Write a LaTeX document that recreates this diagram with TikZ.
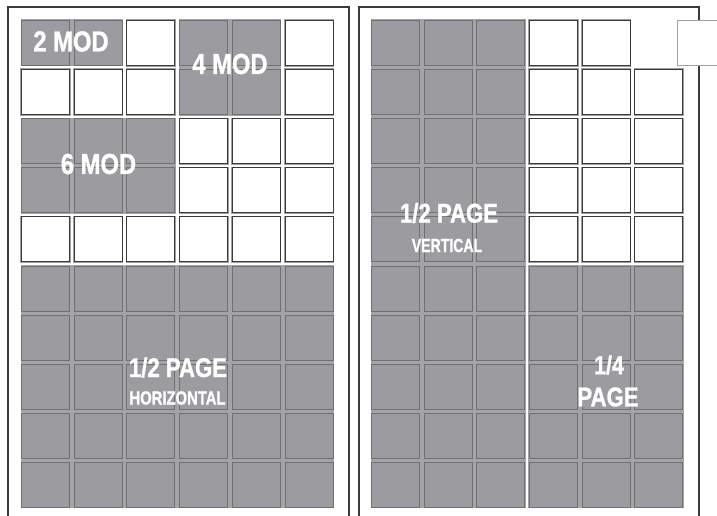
\documentclass[tikz,border=0pt]{standalone}
\usepackage{fontspec}
\setmainfont{Liberation Sans}
\newfontfamily\heavy[FakeBold=1.2]{Liberation Sans Bold}
\definecolor{cellgray}{HTML}{9C9CA0}
\definecolor{gapgray}{HTML}{A4A4A7}
\definecolor{cellline}{HTML}{707072}
\definecolor{pageline}{HTML}{3A3A3A}
\definecolor{shadow}{HTML}{A0A0A0}
\tikzset{
  cellbase/.style={minimum width=48pt,minimum height=45pt,inner sep=0pt,outer sep=0pt,line width=0.9pt},
  wcell/.style={cellbase,fill=white,draw=pageline,
     preaction={draw=shadow,line width=2.2pt}},
  gcell/.style={cellbase,fill=cellgray,draw=cellline},
  pageedge/.style={draw=pageline,line width=1.3pt,
     preaction={draw=shadow,line width=2.6pt}},
  bigtxt/.style={text=white,font=\heavy\fontsize{29}{29}\selectfont,inner sep=0pt},
  smalltxt/.style={text=white,font=\heavy\fontsize{19}{19}\selectfont,inner sep=0pt},
}
\newcommand\LX[1]{\fpeval{21+52.7*(#1-1)}}
\newcommand\RX[1]{\fpeval{371+52.65*(#1-1)}}
\newcommand\YY[1]{\fpeval{20+49.1*(#1-1)}}
\begin{document}
\begin{tikzpicture}[x=1pt,y=-1pt]
\useasboundingbox (0,0) rectangle (717,516);
% pages
\draw[pageedge] (8,530) -- (8,7) -- (349,7) -- (349,530);
\draw[pageedge] (359,530) -- (359,7) -- (699,7) -- (699,530);
\node[draw=shadow,fill=white,line width=1.4pt,minimum width=50pt,minimum height=45pt,inner sep=0pt,anchor=north west] (tab) at (677,20) {};
% gray block backgrounds (gaps)
\fill[gapgray] (\LX{1}-0.5,\YY{1}-0.5) rectangle (\LX{2}+49.5,\YY{1}+46.5);
\fill[gapgray] (\LX{4}-0.5,\YY{1}-0.5) rectangle (\LX{5}+49.5,\YY{2}+46.5);
\fill[gapgray] (\LX{1}-0.5,\YY{3}-0.5) rectangle (\LX{3}+49.5,\YY{4}+46.5);
\fill[gapgray] (\LX{1}-0.5,\YY{6}-0.5) rectangle (\LX{6}+49.5,\YY{10}+46.5);
\fill[gapgray] (\RX{1}-0.5,\YY{1}-0.5) rectangle (\RX{3}+49.5,\YY{10}+46.5);
\fill[gapgray] (\RX{4}-0.5,\YY{6}-0.5) rectangle (\RX{6}+49.5,\YY{10}+46.5);
% left page cells
\foreach \r in {1,...,10}{
  \foreach \c in {1,...,6}{
    \pgfmathtruncatemacro\isg{(\r==1 && (\c==1 || \c==2 || \c==4 || \c==5)) || (\r==2 && (\c==4 || \c==5)) || ((\r==3 || \r==4) && \c<4) || (\r>5)}
    \ifnum\isg=1
      \node[gcell,anchor=north west] (L-\r-\c) at (\LX{\c}+0.5,\YY{\r}+0.5) {};
    \else
      \node[wcell,anchor=north west] (L-\r-\c) at (\LX{\c}+0.5,\YY{\r}+0.5) {};
    \fi
  }
}
% right page cells
\foreach \r in {1,...,10}{
  \foreach \c in {1,...,6}{
    \pgfmathtruncatemacro\isg{(\c<4) || (\r>5)}
    \pgfmathtruncatemacro\skip{(\r==1 && \c==6)}
    \ifnum\skip=0
    \ifnum\isg=1
      \node[gcell,anchor=north west] (R-\r-\c) at (\RX{\c}+0.5,\YY{\r}+0.5) {};
    \else
      \node[wcell,anchor=north west] (R-\r-\c) at (\RX{\c}+0.5,\YY{\r}+0.5) {};
    \fi
    \fi
  }
}
% labels
\node[bigtxt] (t2) at (71,41.5) {\scalebox{0.82}[1]{2 MOD}};
\node[bigtxt] (t4) at (230,64) {\scalebox{0.82}[1]{4 MOD}};
\node[bigtxt] (t6) at (98.5,164) {\scalebox{0.82}[1]{6 MOD}};
\node[bigtxt,font=\heavy\fontsize{27}{27}\selectfont] (th) at (178,367.5) {\scalebox{0.82}[1]{1/2 PAGE}};
\node[smalltxt] (thz) at (177.5,398) {\scalebox{0.78}[1]{HORIZONTAL}};
\node[bigtxt,font=\heavy\fontsize{27}{27}\selectfont] (tv) at (449,213) {\scalebox{0.82}[1]{1/2 PAGE}};
\node[smalltxt] (tvv) at (447,245.5) {\scalebox{0.74}[1]{VERTICAL}};
\node[bigtxt,font=\heavy\fontsize{26}{26}\selectfont] (tq1) at (609,365) {\scalebox{0.82}[1]{1/4}};
\node[bigtxt,font=\heavy\fontsize{27}{27}\selectfont] (tq2) at (608,397) {\scalebox{0.82}[1]{PAGE}};
\end{tikzpicture}
\end{document}
